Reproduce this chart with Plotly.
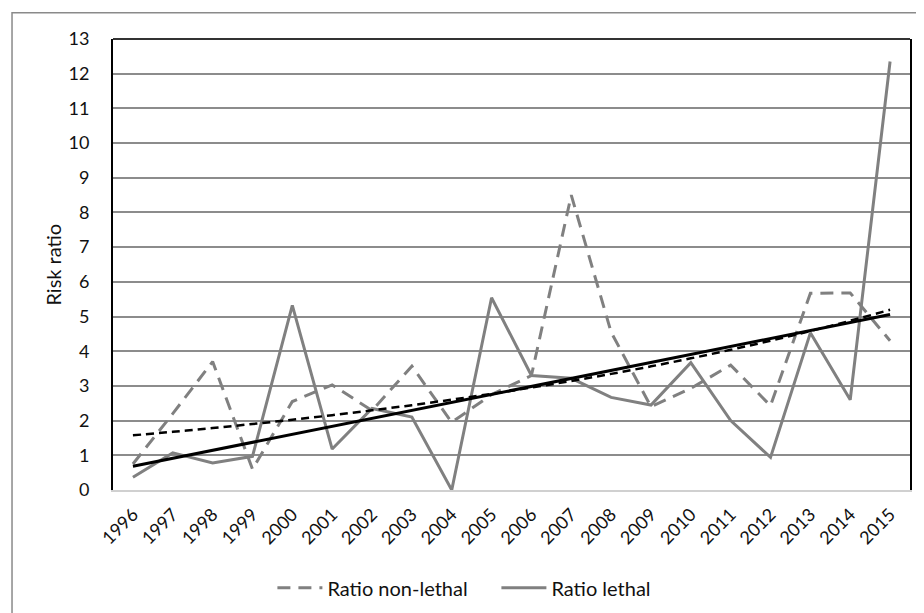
import numpy as np
import plotly.graph_objects as go

years = list(range(1996, 2016))
year_labels = [str(y) for y in years]

ratio_non_lethal = [0.75, 2.2, 3.7, 0.6, 2.55, 3.03, 2.29, 3.57, 1.95, 2.75,
                    3.3, 8.5, 4.55, 2.4, 2.93, 3.6, 2.43, 5.67, 5.68, 4.3]
ratio_lethal = [0.37, 1.07, 0.78, 0.97, 5.32, 1.18, 2.35, 2.1, 0.0, 5.54,
                3.3, 3.22, 2.67, 2.45, 3.67, 2.0, 0.94, 4.53, 2.6, 12.35]
y_ticks = list(range(0, 14))

# Excel-style trendlines: exponential for non-lethal, linear for lethal
xi = np.arange(len(years), dtype=float)
b_nl, a_nl = np.polyfit(xi, np.log(ratio_non_lethal), 1)
trend_non_lethal = np.exp(a_nl + b_nl * xi)
b_l, a_l = np.polyfit(xi, ratio_lethal, 1)
trend_lethal = a_l + b_l * xi

FONT = "Lato, 'Open Sans', sans-serif"
GRAY = "#808080"
TXT = "#111111"

fig = go.Figure()
fig.add_trace(go.Scatter(x=years, y=ratio_non_lethal, mode="lines", name="Ratio non-lethal",
                         line=dict(color=GRAY, width=3, dash="13px,8px")))
fig.add_trace(go.Scatter(x=years, y=ratio_lethal, mode="lines", name="Ratio lethal",
                         line=dict(color=GRAY, width=3)))
fig.add_trace(go.Scatter(x=years, y=trend_non_lethal, mode="lines", showlegend=False,
                         line=dict(color="black", width=2.5, dash="8px,5px", shape="spline")))
fig.add_trace(go.Scatter(x=years, y=trend_lethal, mode="lines", showlegend=False,
                         line=dict(color="black", width=3)))

fig.update_layout(
    width=924, height=613,
    margin=dict(l=105, r=22, t=31, b=131),
    paper_bgcolor="white", plot_bgcolor="white",
    font=dict(family=FONT, size=18, color=TXT),
    showlegend=True,
    legend=dict(orientation="h", x=0.2, xanchor="left", y=-0.217, yanchor="middle",
                font=dict(size=20, color=TXT), itemwidth=45, entrywidth=164,
                entrywidthmode="pixels", bgcolor="rgba(0,0,0,0)"),
    xaxis=dict(range=[1995.5, 2015.5], tickmode="array", tickvals=years, ticktext=year_labels,
               tickangle=-45, showgrid=False, zeroline=False, showline=True,
               linecolor="#d0d0d0", linewidth=2, ticks="", ticklabelstandoff=5,
               tickfont=dict(size=18, color=TXT)),
    yaxis=dict(range=[0, 13], tickmode="array", tickvals=y_ticks, showgrid=True,
               gridcolor="#8c8c8c", gridwidth=1.6, zeroline=False, showline=True,
               linecolor="black", linewidth=2, mirror=True, ticks="",
               ticklabelstandoff=18, tickfont=dict(size=18, color=TXT)),
    annotations=[dict(text="Risk ratio", textangle=-90, xref="paper", yref="paper",
                      x=-0.0765, y=0.5, xanchor="center", yanchor="middle",
                      showarrow=False, font=dict(size=20, family=FONT, color=TXT))],
    shapes=[
        dict(type="line", xref="paper", yref="paper", x0=0, x1=1, y0=1, y1=1,
             line=dict(color="#333333", width=2)),
        dict(type="rect", xref="paper", yref="paper", x0=-0.1267, x1=1.0226,
             y0=-0.284, y1=1.058, line=dict(color="#8a8a8a", width=1.5)),
    ],
)

fig.write_html("out.html")
